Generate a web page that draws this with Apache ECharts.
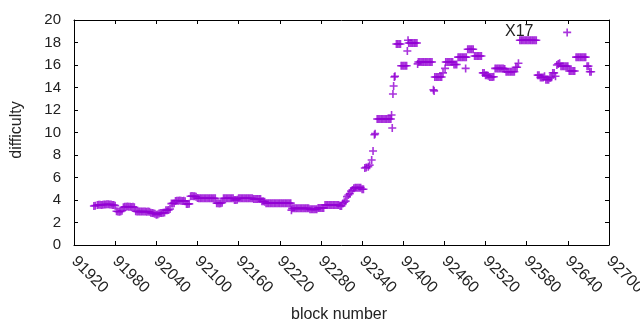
<!DOCTYPE html>
<html lang="en">

<head>
    <meta charset="UTF-8">
    <title>difficulty</title>
    <script src="https://cdn.jsdelivr.net/npm/echarts@6/dist/echarts.min.js"></script>
    <style>
        html, body {
            margin: 0;
            padding: 0;
            background: #fff;
        }

        #chart {
            width: 640px;
            height: 330px;
        }
    </style>
</head>

<body>
    <div id="chart"></div>
</body>
<script type="text/javascript">

    // [block number, difficulty]
    var lowPhase = [
        [91949, 3.47], [91951, 3.5], [91954, 3.55], [91956, 3.57], [91958, 3.57], [91960, 3.55], [91962, 3.57], [91964, 3.6],
        [91966, 3.6], [91968, 3.62], [91970, 3.62], [91972, 3.6], [91974, 3.6], [91976, 3.55], [91978, 3.55], [91980, 3.5],
        [91982, 3.0], [91984, 2.98], [91986, 2.96], [91988, 2.98], [91990, 3.05],
        [91992, 3.35], [91994, 3.4], [91996, 3.4], [91998, 3.42], [92000, 3.4], [92002, 3.4], [92004, 3.38], [92006, 3.4], [92008, 3.35],
        [92010, 3.0], [92012, 2.98], [92014, 2.97], [92016, 2.97], [92018, 2.97], [92020, 2.98], [92022, 2.97], [92024, 2.97],
        [92026, 2.96], [92028, 2.97], [92030, 2.95],
        [92032, 2.86], [92034, 2.84], [92036, 2.82], [92038, 2.78], [92040, 2.7], [92042, 2.72], [92044, 2.8], [92046, 2.84],
        [92048, 2.84], [92050, 2.86], [92052, 2.9],
        [92054, 3.1], [92056, 3.1], [92058, 3.12], [92060, 3.2],
        [92062, 3.68], [92064, 3.7], [92066, 3.72],
        [92068, 3.92], [92070, 3.94], [92072, 3.94], [92074, 3.95], [92076, 3.94], [92078, 3.92], [92080, 3.94], [92082, 3.9],
        [92084, 3.64], [92086, 3.64], [92088, 3.66],
        [92090, 4.33], [92092, 4.35], [92094, 4.33], [92096, 4.33], [92098, 4.3],
        [92100, 4.17], [92102, 4.15], [92104, 4.15], [92106, 4.15], [92108, 4.15], [92110, 4.15], [92112, 4.15], [92114, 4.15],
        [92116, 4.15], [92118, 4.15], [92120, 4.15], [92122, 4.15], [92124, 4.15], [92126, 4.15],
        [92128, 3.72], [92130, 3.72], [92132, 3.7], [92134, 3.72], [92136, 3.75],
        [92138, 4.15], [92140, 4.15], [92142, 4.15], [92144, 4.15], [92146, 4.15], [92148, 4.15], [92150, 4.15], [92152, 4.15],
        [92154, 4.0], [92156, 4.0], [92158, 4.02],
        [92160, 4.15], [92162, 4.15], [92164, 4.15], [92166, 4.15], [92168, 4.15], [92170, 4.15], [92172, 4.15], [92174, 4.15],
        [92176, 4.15], [92178, 4.15], [92180, 4.15],
        [92182, 4.08], [92184, 4.08], [92186, 4.08], [92188, 4.08], [92190, 4.08], [92192, 4.08],
        [92194, 3.9], [92196, 3.88], [92198, 3.85],
        [92200, 3.72], [92202, 3.72], [92204, 3.72], [92206, 3.72], [92208, 3.72], [92210, 3.72], [92212, 3.72], [92214, 3.72],
        [92216, 3.72], [92218, 3.72], [92220, 3.72], [92222, 3.72], [92224, 3.72], [92226, 3.72], [92228, 3.72], [92230, 3.72],
        [92232, 3.72], [92234, 3.72], [92236, 3.72],
        [92237, 3.1],
        [92238, 3.26], [92240, 3.26], [92242, 3.26], [92244, 3.26], [92246, 3.26], [92248, 3.26], [92250, 3.26], [92252, 3.26],
        [92254, 3.26], [92256, 3.26], [92258, 3.26], [92260, 3.26], [92262, 3.26],
        [92264, 3.17], [92266, 3.17], [92268, 3.17], [92270, 3.17], [92272, 3.17], [92274, 3.17],
        [92276, 3.3], [92278, 3.3], [92280, 3.3], [92282, 3.3], [92284, 3.3],
        [92286, 3.55], [92288, 3.55], [92290, 3.55], [92292, 3.55], [92294, 3.55], [92296, 3.55], [92298, 3.55], [92300, 3.55],
        [92302, 3.55], [92304, 3.55], [92306, 3.55],
        [92308, 3.47], [92310, 3.47],
        [92312, 3.7], [92314, 3.8], [92316, 3.9],
        [92318, 4.3], [92320, 4.44], [92322, 4.55],
        [92324, 4.8], [92326, 4.9],
        [92328, 5.05], [92330, 5.1], [92332, 5.1], [92334, 5.1], [92336, 5.1], [92338, 5.1],
        [92340, 4.95], [92342, 4.95]
    ];

    var rampPhase = [
        [92344, 6.84], [92346, 6.9], [92349, 6.95], [92351, 7.1], [92354, 7.56], [92356, 8.36], [92358, 9.8], [92359, 9.9],
        [92362, 11.2], [92364, 11.2], [92366, 11.2], [92368, 11.2], [92370, 11.2], [92372, 11.2], [92374, 11.2], [92376, 11.2],
        [92378, 11.2], [92380, 11.2], [92382, 11.2],
        [92383, 11.56], [92384, 10.4], [92385, 13.42], [92386, 14.13], [92387, 14.93], [92388, 15.0]
    ];

    var highPhase = [
        [92390, 17.87], [92392, 17.87], [92394, 17.87], [92396, 17.87],
        [92397, 15.94], [92399, 15.94], [92401, 15.94], [92403, 15.94], [92405, 15.94],
        [92406, 17.24], [92407, 18.2],
        [92408, 17.96], [92410, 17.96], [92412, 17.96], [92414, 17.96], [92416, 17.96], [92418, 17.96], [92420, 17.96],
        [92421, 16.1],
        [92422, 16.27], [92424, 16.27], [92426, 16.27], [92428, 16.27], [92430, 16.27], [92432, 16.27], [92434, 16.27],
        [92436, 16.27], [92438, 16.27], [92440, 16.27], [92442, 16.27],
        [92444, 13.8], [92445, 13.7],
        [92446, 14.93], [92448, 14.93], [92450, 14.93], [92452, 14.93], [92454, 14.93], [92456, 14.93],
        [92458, 15.3], [92461, 15.7],
        [92462, 16.27], [92464, 16.27], [92466, 16.27], [92468, 16.27], [92470, 16.27], [92472, 16.27],
        [92474, 16.05], [92476, 16.05], [92478, 16.05],
        [92480, 16.7], [92482, 16.7], [92484, 16.7], [92486, 16.7], [92488, 16.7], [92490, 16.7], [92492, 16.7],
        [92491, 15.7],
        [92494, 17.4], [92496, 17.4], [92498, 17.4], [92500, 17.4], [92502, 17.4],
        [92504, 16.8], [92506, 16.8], [92508, 16.8], [92510, 16.8], [92512, 16.8], [92514, 16.8],
        [92516, 15.3], [92518, 15.3],
        [92520, 15.1], [92522, 15.1], [92524, 15.05],
        [92526, 14.93], [92528, 14.93], [92530, 14.93], [92532, 14.95],
        [92534, 15.7], [92536, 15.7], [92538, 15.7], [92540, 15.7], [92542, 15.7], [92544, 15.7], [92546, 15.7], [92548, 15.65],
        [92550, 15.4], [92552, 15.4], [92554, 15.4], [92556, 15.4], [92558, 15.4], [92560, 15.4], [92562, 15.4],
        [92564, 15.8], [92566, 15.8], [92568, 16.15],
        [92570, 18.2], [92572, 18.2], [92574, 18.2], [92576, 18.2], [92578, 18.2], [92580, 18.2], [92582, 18.2], [92584, 18.2],
        [92586, 18.2], [92588, 18.2], [92590, 18.2], [92592, 18.2], [92594, 18.2],
        [92596, 15.1], [92598, 15.1],
        [92600, 14.9], [92602, 14.9], [92604, 14.9], [92606, 15.0],
        [92608, 14.7], [92610, 14.7], [92612, 14.7],
        [92614, 14.85], [92616, 14.9],
        [92618, 15.3], [92620, 15.3], [92622, 15.0],
        [92624, 16.0], [92626, 16.1], [92628, 16.15],
        [92630, 15.9], [92632, 15.9], [92634, 15.9], [92636, 15.9], [92638, 15.9], [92640, 15.9],
        [92639, 18.9],
        [92642, 15.47], [92644, 15.47], [92646, 15.47], [92648, 15.47], [92650, 15.47],
        [92652, 16.7], [92654, 16.7], [92656, 16.7], [92658, 16.7], [92660, 16.7], [92662, 16.7], [92664, 16.7], [92666, 16.7],
        [92668, 15.9], [92670, 15.9],
        [92672, 15.4], [92674, 15.4]
    ];

    var xMin = 91920, xMax = 92700, xStep = 60;
    var yMin = 0, yMax = 20, yStep = 2;
    var xName = 'block number';
    var yName = 'difficulty';
    var noteText = 'X17';

    var font = 'Liberation Sans, Arial, sans-serif';
    var plus = 'path://M0,4L8,4M4,0L4,8';
    var frameColor = '#000';

    var chart = echarts.init(document.getElementById('chart'));

    function xAxisOpt(pos, showLabel) {
        return {
            type: 'value',
            position: pos,
            min: xMin,
            max: xMax,
            interval: xStep,
            splitLine: { show: false },
            axisLine: { show: true, onZero: false, lineStyle: { color: frameColor, width: 1 } },
            axisTick: { show: true, inside: true, length: 4, lineStyle: { color: frameColor } },
            axisLabel: {
                show: showLabel,
                rotate: -45,
                margin: 14,
                color: '#222',
                fontFamily: font,
                fontSize: 16,
                hideOverlap: false,
                formatter: function (v) { return String(v); }
            }
        };
    }

    function yAxisOpt(pos, showLabel) {
        return {
            type: 'value',
            position: pos,
            min: yMin,
            max: yMax,
            interval: yStep,
            splitLine: { show: false },
            axisLine: { show: true, onZero: false, lineStyle: { color: frameColor, width: 1 } },
            axisTick: { show: true, inside: true, length: 4, lineStyle: { color: frameColor } },
            axisLabel: {
                show: showLabel,
                margin: 13,
                color: '#222',
                fontFamily: font,
                fontSize: 15
            }
        };
    }

    function plusSeries(data) {
        return {
            type: 'scatter',
            data: data,
            symbol: plus,
            symbolSize: 8,
            itemStyle: { color: 'rgba(0,0,0,0)', borderColor: '#9400d3', borderWidth: 1.6 },
            emphasis: { disabled: true }
        };
    }

    chart.setOption({
        animation: false,
        grid: {
            left: 74,
            right: 31,
            top: 20,
            bottom: 85,
            outerBoundsMode: 'none'
        },
        xAxis: [xAxisOpt('bottom', true), xAxisOpt('top', false)],
        yAxis: [yAxisOpt('left', true), yAxisOpt('right', false)],
        series: [plusSeries(lowPhase), plusSeries(rampPhase), plusSeries(highPhase)],
        graphic: [
            {
                type: 'text', x: 339, y: 315,
                style: { text: xName, fontFamily: font, fontSize: 16, fill: '#222', align: 'center', verticalAlign: 'middle' }
            },
            {
                type: 'text', x: 17, y: 130, rotation: Math.PI / 2,
                style: { text: yName, fontFamily: font, fontSize: 16, fill: '#222', align: 'center', verticalAlign: 'middle' }
            },
            {
                type: 'text', x: 505, y: 24,
                style: { text: noteText, fontFamily: font, fontSize: 16, fill: '#222' }
            }
        ]
    });

</script>

</html>
